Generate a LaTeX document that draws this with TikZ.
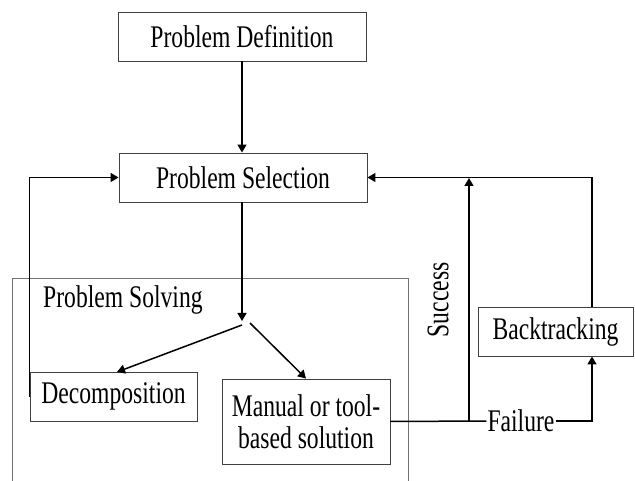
\documentclass[tikz,border=0pt]{standalone}
\usepackage{fontspec}
\setmainfont{Liberation Serif}[FakeStretch=0.75]
\usetikzlibrary{arrows.meta,calc}
\begin{document}
\begin{tikzpicture}[x=1pt,y=-1pt,
  box/.style={draw=black!75,line width=0.9pt,rectangle,inner sep=0pt,
    font=\fontsize{31.5}{32}\selectfont,align=center},
  flow/.style={line width=1.5pt,-{Triangle[length=8pt,width=9pt]}},
  plain/.style={line width=1.5pt},
  label/.style={font=\fontsize{31.5}{32}\selectfont,inner sep=1pt}]
\useasboundingbox (0,0) rectangle (635,481);
% enclosing region for the solving stage (open at the bottom)
\draw[black!55,line width=0.9pt] (12,485) -- (12,278) -- (408,278) -- (408,485);
\node[label,anchor=west] (solv) at (42,300) {Problem Solving};

\node[box,minimum width=248pt,minimum height=49pt] (pd) at (242,36.5) {Problem Definition};
\node[box,minimum width=248pt,minimum height=49pt] (ps) at (243,177.5) {Problem Selection};
\node[box,minimum width=167pt,minimum height=49pt] (dec) at (113.5,396.5) {Decomposition};
\node[box,minimum width=168pt,minimum height=85pt] (man) at (306,421.5) {Manual or tool-\\based solution};
\node[box,minimum width=155pt,minimum height=49pt] (bt) at (555.5,331.5) {Backtracking};

\coordinate (split) at (242,321);
\coordinate (sl) at (242,325);
\coordinate (sr) at (250,323);
\coordinate (fx) at (592,421);
\coordinate (jn) at (469,421);
\coordinate (top) at (469,178);

\draw[flow] (pd.south -| split) -- (ps.north -| split);
\draw[flow] (ps.south -| split) -- (split);
\draw[flow] (sl) -- (117,372);
\draw[flow] (sr) -- (man.north);

% return path from decomposition
\draw[flow] (dec.west) |- (ps.west);

% failure / success branches
\node[label,fill=white] (fail) at (521,421) {Failure};
\draw[plain] (man.east) -- (fail.west);
\draw[flow] (fail.east) -| (bt.south -| fx);
\draw[flow] (jn) -- (top);
\node[label,rotate=90] (succ) at (438,300) {Success};
\draw[flow] (bt.north -| fx) |- (ps.east);
\end{tikzpicture}
\end{document}
